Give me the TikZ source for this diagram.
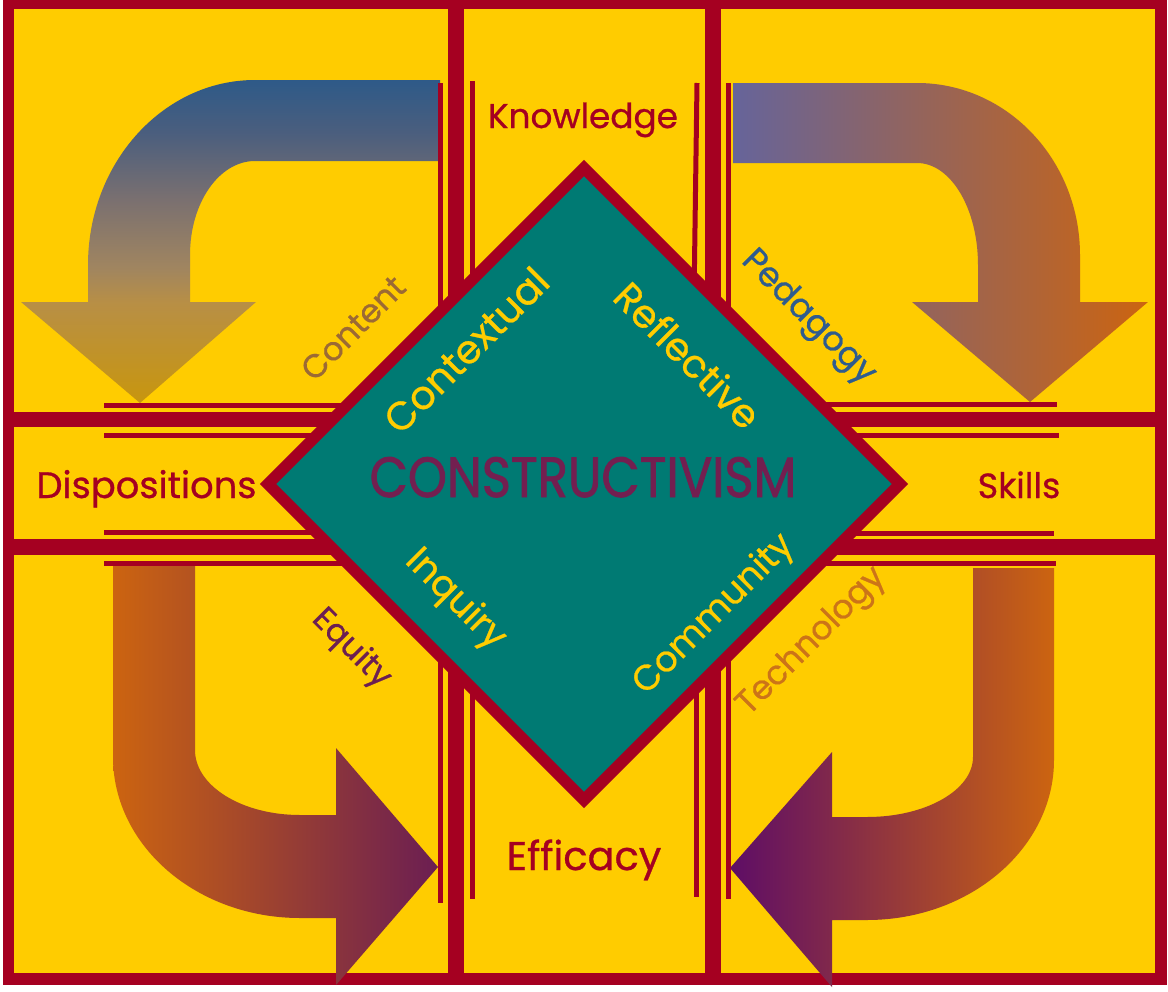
\documentclass[tikz,border=0pt]{standalone}
\usepackage{fontspec}
\setmainfont{Poppins}
\newfontfamily\lblfont[FakeBold=0.7]{Poppins}
\newfontfamily\constrfont[FakeBold=1.6]{Poppins}
\usepackage{graphicx}
\definecolor{dred}{HTML}{A50021}
\definecolor{ylw}{HTML}{FFCC00}
\definecolor{tealc}{HTML}{007A73}
\definecolor{purpc}{HTML}{731F50}
\definecolor{contentc}{HTML}{9C6A34}
\definecolor{pedagc}{HTML}{2F5C8E}
\definecolor{equityc}{HTML}{6C1F52}
\definecolor{technoc}{HTML}{CC7418}
\definecolor{tlA}{HTML}{2E5A88}
\definecolor{tlB}{HTML}{4A5E7E}
\definecolor{tlC}{HTML}{7A7070}
\definecolor{tlD}{HTML}{A08560}
\definecolor{tlE}{HTML}{B88F45}
\definecolor{tlF}{HTML}{C8960E}
\definecolor{trL}{HTML}{66649A}
\definecolor{orng}{HTML}{CC6410}
\definecolor{blR}{HTML}{6B1E52}
\definecolor{brL}{HTML}{5E0D66}
\pgfdeclareverticalshading{tlshade}{100bp}{color(0bp)=(tlF); color(25bp)=(tlF); color(40.5bp)=(tlE); color(46bp)=(tlD); color(56.5bp)=(tlC); color(67bp)=(tlB); color(75bp)=(tlA); color(100bp)=(tlA)}
\newcommand{\fitto}[2]{\resizebox{#1pt}{!}{#2}}
\tikzset{
  framebox/.style={draw=dred, line width=8.6pt},
  barline/.style={draw=dred, line width=12pt},
  thinline/.style={draw=dred, line width=3.75pt},
  lbl/.style={inner sep=0pt, font=\lblfont\fontsize{20}{24}\selectfont},
}
\begin{document}
\begin{tikzpicture}[x=0.75pt,y=-0.75pt]
\useasboundingbox (0,0) rectangle (1168,992);
\fill[white] (0,0) rectangle (1168,992);
\fill[ylw] (8.5,3.5) rectangle (1161,979);
% bars
\draw[barline, line width=11.25pt] (8.5,419.5) -- (1161,419.5);
\draw[barline] (8.5,547) -- (1161,547);
\draw[barline] (456,3.5) -- (456,979);
\draw[barline] (713,3.5) -- (713,979);
\draw[framebox] (8.5,3.5) rectangle (1161,979);
% arrows
\shade[shading=tlshade]
  (440,80) -- (255,80) .. controls (163,80) and (88,163) .. (88,265)
  -- (88,302) -- (21,302) -- (140,403) -- (256,302) -- (190,302) -- (190,255)
  .. controls (190,203) and (219,161) .. (255,161) -- (440,161) -- cycle;
\shade[left color=trL, right color=orng]
  (733,83) -- (917,83) .. controls (1007,83) and (1080,160) .. (1080,255)
  -- (1080,302) -- (1148,302) -- (1030,402) -- (912,302) -- (978,302) -- (978,265)
  .. controls (978,209) and (951,163) .. (917,163) -- (733,163) -- cycle;
\shade[left color=orng, right color=blR]
  (113,563) -- (113,757) .. controls (113,846) and (197,918) .. (300,918)
  -- (336,918) -- (336,985) -- (438,867) -- (336,748) -- (336,815) -- (300,815)
  .. controls (242,815) and (195,786) .. (195,750) -- (195,563) -- cycle;
\shade[left color=brL, right color=orng]
  (1054,568) -- (1054,760) .. controls (1054,848) and (970,920) .. (867,920)
  -- (832,920) -- (832,987) -- (730,868) -- (832,752) -- (832,817) -- (867,817)
  .. controls (926,817) and (973,790) .. (973,757) -- (973,568) -- cycle;
% thin lines
\draw[thinline] (104,405) -- (400,405);
\draw[thinline] (104,435) -- (400,435);
\draw[thinline] (104,532) -- (400,532);
\draw[thinline] (104,563) -- (400,563);
\draw[thinline] (770,404) -- (1057,404);
\draw[thinline] (770,435) -- (1059,435);
\draw[thinline] (770,533) -- (1054,533);
\draw[thinline] (770,563) -- (1056,563);
\draw[thinline] (440,83) -- (440,350);
\draw[thinline] (472,81) -- (472,350);
\draw[thinline] (697,83) -- (694,300);
\draw[thinline] (728,83) -- (728,350);
\draw[thinline] (440,600) -- (440,903);
\draw[thinline] (472,600) -- (472,899);
\draw[thinline] (696,600) -- (696,897);
\draw[thinline] (728,600) -- (728,899);
% diamond
\draw[draw=dred, fill=tealc, line width=8.6pt, line join=miter]
  (584,168) -- (900,484) -- (584,800) -- (268,484) -- cycle;
% labels
\node[lbl, text=dred, anchor=base] (knowledge) at (583,128) {\fitto{142.5}{Knowledge}};
\node[lbl, text=dred, anchor=base] (dispositions) at (146.5,498) {\fitto{165}{Dispositions}};
\node[lbl, text=dred, anchor=base] (skills) at (1019,498) {\fitto{62}{Skills}};
\node[lbl, text=dred, anchor=base] (efficacy) at (584,870) {\fitto{116}{Efficacy}};
\node[lbl, text=purpc, anchor=base, font=\constrfont\fontsize{20}{24}\selectfont] (constr) at (583,497) {\resizebox{320pt}{30pt}{CONSTRUCTIVISM}};
\node[lbl, text=ylw, rotate=45] (contextual) at (466,350) {\fitto{161}{Contextual}};
\node[lbl, text=ylw, rotate=-45] (reflective) at (688,355) {\fitto{141}{Reflective}};
\node[lbl, text=ylw, rotate=-45] (inquiry) at (455,600) {\fitto{94}{Inquiry}};
\node[lbl, text=ylw, rotate=45] (community) at (714,615) {\fitto{158}{Community}};
\node[lbl, text=contentc, rotate=45] (content) at (353,328) {\fitto{99}{Content}};
\node[lbl, text=pedagc, rotate=-45] (pedagogy) at (808,318) {\fitto{131}{Pedagogy}};
\node[lbl, text=equityc, rotate=-45] (equity) at (351,649) {\fitto{73}{Equity}};
\node[lbl, text=technoc, rotate=45] (technology) at (812,642) {\fitto{146}{Technology}};
\end{tikzpicture}
\end{document}
